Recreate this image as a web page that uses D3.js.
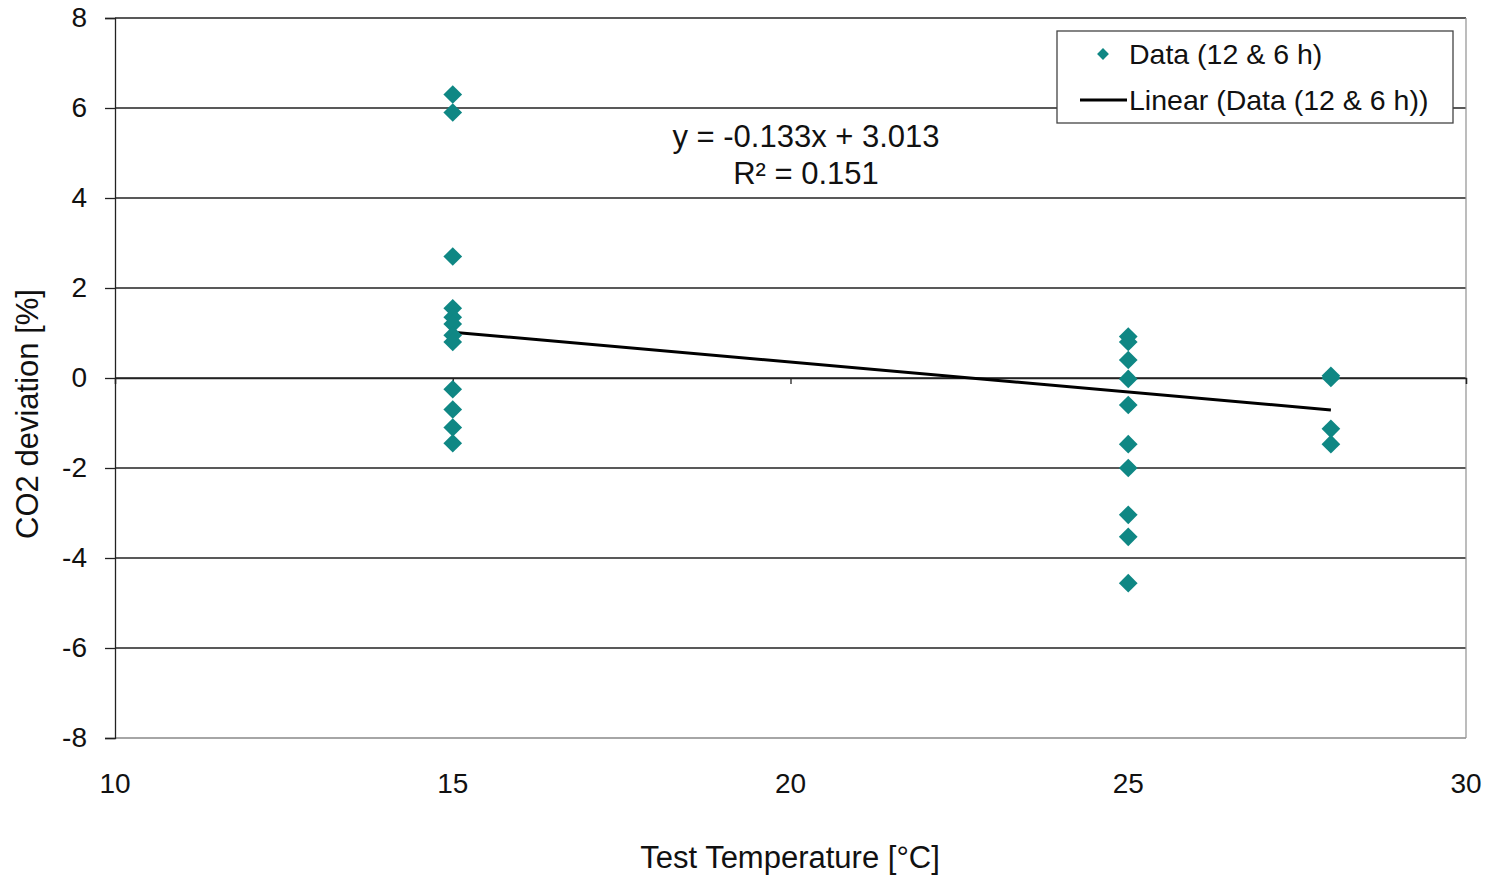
<!DOCTYPE html>
<html>
<head>
<meta charset="utf-8">
<script src="https://cdn.jsdelivr.net/npm/d3@7"></script>
<style>
  body { margin: 0; background: #fff; }
  svg { font-family: "Liberation Sans", Arial, sans-serif; }
</style>
</head>
<body>
<svg id="chart" width="1492" height="878"></svg>
<script>
// Readings at each test temperature
const temps15 = [6.3, 5.9, 2.7, 1.55, 1.35, 1.2, 0.95, 0.8, -0.25, -0.7, -1.1, -1.45];
const temps25 = [0.92, 0.8, 0.4, -0.02, -0.6, -1.47, -2.0, -3.04, -3.53, -4.56];
const temps28 = [0.05, 0.0, -1.13, -1.47];
const testTemps = [15, 25, 28];
const groups = [temps15, temps25, temps28];

// Trendline as printed on the chart
const slope = -0.133, intercept = 3.013;
const trendRange = [15, 28];

const xTicks = [10, 15, 20, 25, 30];
const yTicks = [-8, -6, -4, -2, 0, 2, 4, 6, 8];

const pointColor = "#0f8784";

const svg = d3.select("#chart");
const margin = {top: 18, right: 26, bottom: 140, left: 115};
const width = 1492 - margin.left - margin.right,
    height = 878 - margin.top - margin.bottom;

const x = d3.scaleLinear().domain([10, 30]).range([0, width]);
const y = d3.scaleLinear().domain([-8, 8]).range([height, 0]);

const g = svg.append("g").attr("transform", "translate(" + margin.left + "," + margin.top + ")");

// Gridlines
g.selectAll(".grid").data(yTicks).enter().append("line")
    .attr("x1", 0).attr("x2", width)
    .attr("y1", d => y(d)).attr("y2", d => y(d))
    .attr("stroke", d => d === -8 ? "#888" : "#222")
    .attr("stroke-width", 1.3);

// Right border of plot area
g.append("line")
    .attr("x1", width).attr("x2", width)
    .attr("y1", 0).attr("y2", height)
    .attr("stroke", "#999").attr("stroke-width", 1.3);

// Y axis (plain hyphen for negatives, like the original)
const yAxis = g.append("g")
    .call(d3.axisLeft(y).tickValues(yTicks).tickSize(10).tickPadding(18)
        .tickFormat(d => String(d)));
yAxis.select(".domain").attr("stroke", "#222").attr("stroke-width", 1.3);
yAxis.selectAll(".tick line").attr("stroke", "#222").attr("stroke-width", 1.3);
yAxis.selectAll("text").attr("font-size", 28).attr("fill", "#111")
    .attr("font-family", "Liberation Sans, Arial, sans-serif");

// X axis crossing at zero, labels at the bottom
const xAxis = g.append("g")
    .attr("transform", "translate(0," + y(0) + ")")
    .call(d3.axisBottom(x).tickValues(xTicks).tickSize(6).tickFormat(""));
xAxis.select(".domain").attr("stroke", "#222").attr("stroke-width", 1.3);
xAxis.selectAll(".tick line").attr("stroke", "#222").attr("stroke-width", 1.3);

g.selectAll(".xlab").data(xTicks).enter().append("text")
    .attr("x", d => x(d)).attr("y", height + 55)
    .attr("text-anchor", "middle")
    .attr("font-size", 28).attr("fill", "#111")
    .text(d => d);

// Trendline
g.append("line")
    .attr("x1", x(trendRange[0])).attr("y1", y(slope * trendRange[0] + intercept))
    .attr("x2", x(trendRange[1])).attr("y2", y(slope * trendRange[1] + intercept))
    .attr("stroke", "#000").attr("stroke-width", 3);

// Data points as diamonds (rotated squares)
const points = [];
groups.forEach((vals, i) => vals.forEach(v => points.push({t: testTemps[i], v: v})));
const diamond = d3.symbol().type(d3.symbolSquare).size(175);
g.selectAll(".pt").data(points).enter().append("path")
    .attr("d", diamond)
    .attr("transform", d => "translate(" + x(d.t) + "," + y(d.v) + ") rotate(45)")
    .attr("fill", pointColor);

// Equation label
const eq = g.append("text")
    .attr("text-anchor", "middle").attr("font-size", 31).attr("fill", "#111");
eq.append("tspan").attr("x", 691).attr("y", 129).text("y = -0.133x + 3.013");
eq.append("tspan").attr("x", 691).attr("y", 166).text("R² = 0.151");

// Axis titles
svg.append("text")
    .attr("x", 790).attr("y", 868)
    .attr("text-anchor", "middle").attr("font-size", 31).attr("fill", "#111")
    .text("Test Temperature [°C]");
svg.append("text")
    .attr("transform", "translate(38,414) rotate(-90)")
    .attr("text-anchor", "middle").attr("font-size", 31).attr("fill", "#111")
    .text("CO2 deviation [%]");

// Legend
const legend = svg.append("g").attr("transform", "translate(1057,31)");
legend.append("rect")
    .attr("width", 396).attr("height", 92)
    .attr("fill", "#fff").attr("stroke", "#444").attr("stroke-width", 1.3);
legend.append("path")
    .attr("d", d3.symbol().type(d3.symbolSquare).size(70))
    .attr("transform", "translate(46,23) rotate(45)")
    .attr("fill", pointColor);
legend.append("text")
    .attr("x", 72).attr("y", 33).attr("font-size", 28.5).attr("fill", "#111")
    .text("Data (12 & 6 h)");
legend.append("line")
    .attr("x1", 23).attr("x2", 70).attr("y1", 69).attr("y2", 69)
    .attr("stroke", "#000").attr("stroke-width", 3);
legend.append("text")
    .attr("x", 72).attr("y", 79).attr("font-size", 28.5).attr("fill", "#111")
    .text("Linear (Data (12 & 6 h))");
</script>
</body>
</html>
